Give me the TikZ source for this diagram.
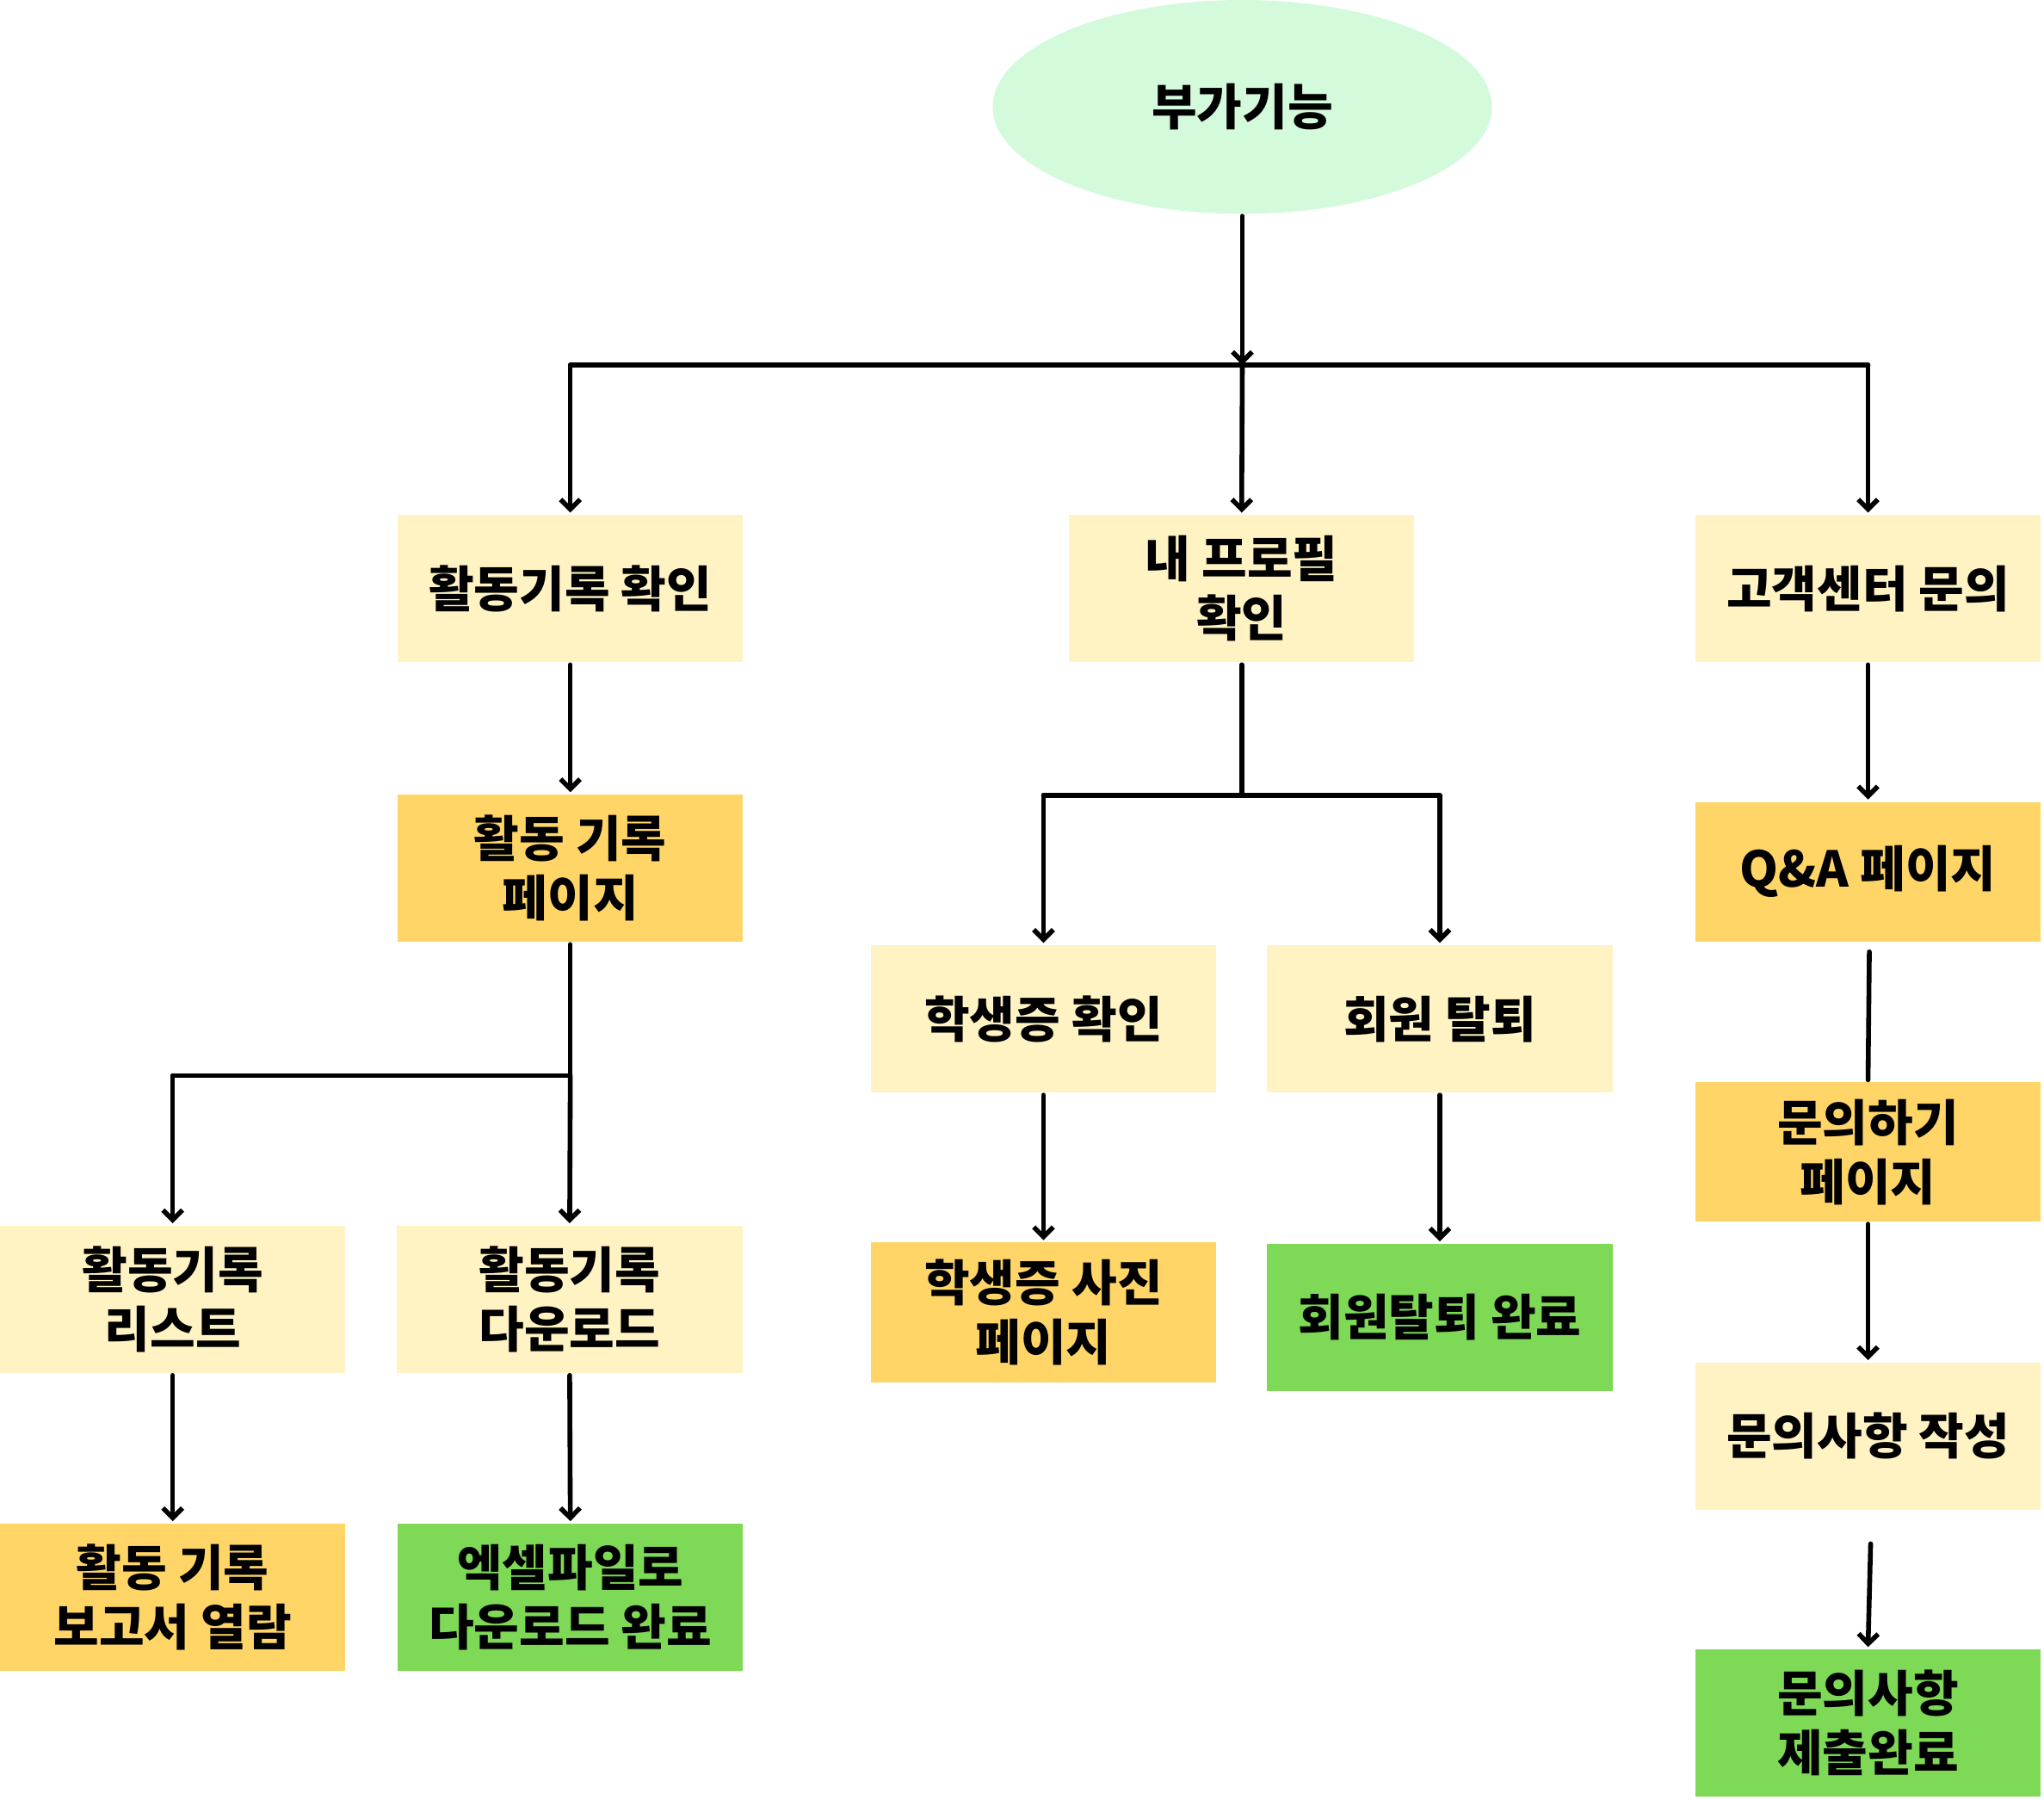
\documentclass[tikz,border=0pt]{standalone}
\usepackage{fontspec}
\usepackage{tikz}
\usetikzlibrary{arrows.meta,shapes.geometric}
\newfontfamily\krfont{Noto Sans CJK KR Black}

\definecolor{mint}{HTML}{D4FADC}
\definecolor{paleyel}{HTML}{FFF3C4}
\definecolor{pageyel}{HTML}{FFD568}
\definecolor{donegrn}{HTML}{7ED957}

\begin{document}
\begin{tikzpicture}[
  line width=2.1pt,
  box/.style={minimum width=5.3cm, minimum height=2.26cm, inner sep=0pt, align=center,
    font=\krfont\fontsize{21.5}{26}\selectfont},
  pale/.style={box, fill=paleyel},
  pagebox/.style={box, fill=pageyel},
  donebox/.style={box, fill=donegrn},
  arr/.style={-{Straight Barb[length=1.5mm,width=3mm]}, line cap=round},
  ln/.style={line cap=round}
]
\useasboundingbox (0,0) rectangle (31.36,-27.6);

% top
\node [ellipse, fill=mint, minimum width=7.66cm, minimum height=3.28cm, inner sep=0pt,
  font=\krfont\fontsize{21.5}{26}\selectfont] (top) at (19.06,-1.64) {부가기능};

% first row
\node [pale] (rec) at (8.75,-9.03) {활동기록 확인};
\node [pale] (prof) at (19.05,-9.03) {내 프로필\\확인};
\node [pale] (cs) at (28.66,-9.03) {고객센터 문의};

\coordinate (hub) at (19.06,-5.6);
\coordinate (hubl) at (8.75,-5.6);
\coordinate (hubr) at (28.66,-5.6);
\draw [arr] (top.south) -- (hub);
\draw [ln] (hubl) -- (hubr);
\draw [arr] (hubl) -- (rec.north);
\draw [arr] (hub) -- (prof.north);
\draw [arr] (hubr) -- (cs.north);

% left branch
\node [pagebox] (recpage) at (8.75,-13.32) {활동 기록\\페이지};
\node [pale] (reclist) at (2.65,-19.93) {활동기록\\리스트};
\node [pale] (recdown) at (8.74,-19.93) {활동기록\\다운로드};
\node [pagebox] (report) at (2.65,-24.5) {활동 기록\\보고서 열람};
\node [donebox] (excel) at (8.75,-24.5) {엑셀파일로\\다운로드 완료};

\draw [arr] (rec.south) -- (recpage.north);
\coordinate (split1) at (8.75,-16.5);
\coordinate (split1l) at (2.65,-16.5);
\draw [ln] (recpage.south) -- (split1) -- (split1l);
\draw [arr] (split1l) -- (reclist.north);
\draw [arr] (split1) -- (recdown.north);
\draw [arr] (reclist.south) -- (report.north);
\draw [arr] (recdown.south) -- (excel.north);

% middle branch
\node [pale] (card) at (16.01,-15.63) {학생증 확인};
\node [pale] (quit) at (22.09,-15.63) {회원 탈퇴};
\node [pagebox, minimum height=2.14cm] (photo) at (16.01,-20.13) {학생증 사진\\페이지};
\node [donebox] (quitdone) at (22.09,-20.21) {회원탈퇴 완료};

\coordinate (split2) at (19.05,-12.2);
\coordinate (split2l) at (16.01,-12.2);
\coordinate (split2r) at (22.09,-12.2);
\draw [ln] (prof.south) -- (split2);
\draw [ln] (split2l) -- (split2r);
\draw [arr] (split2l) -- (card.north);
\draw [arr] (split2r) -- (quit.north);
\draw [arr] (card.south) -- (photo.north);
\draw [arr] (quit.south) -- (quitdone.north);

% right branch
\node [pagebox, minimum height=2.14cm] (qna) at (28.66,-13.37) {Q\&A 페이지};
\node [pagebox, minimum height=2.14cm] (ask) at (28.66,-17.67) {문의하기\\페이지};
\node [pale] (write) at (28.66,-22.03) {문의사항 작성};
\node [donebox] (sent) at (28.66,-26.43) {문의사항\\제출완료};

\coordinate (qnagap) at (28.68,-14.6);
\coordinate (writegap) at (28.7,-23.68);
\draw [arr] (cs.south) -- (qna.north);
\draw [ln] (qnagap) -- (ask.north);
\draw [arr] (ask.south) -- (write.north);
\draw [arr] (writegap) -- (sent.north);

\end{tikzpicture}
\end{document}
